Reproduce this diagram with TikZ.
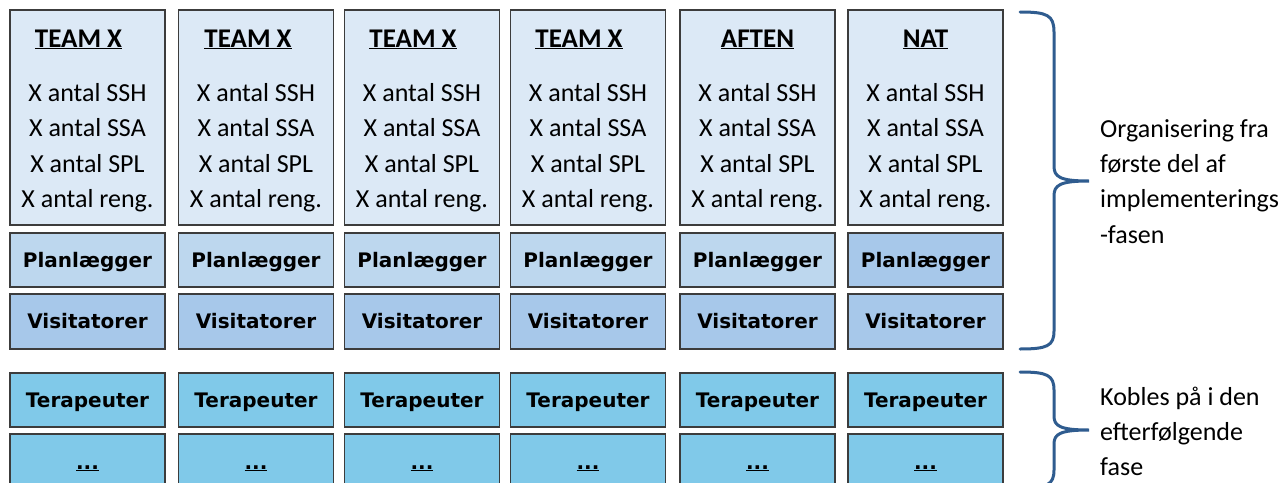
\documentclass[tikz,border=0pt]{standalone}
\usepackage{fontspec}
\setmainfont{Carlito}
\newfontfamily\heavyfont{DejaVu Sans}

\definecolor{boxline}{HTML}{3C3C3C}
\definecolor{teamfill}{HTML}{DCE9F6}
\definecolor{planfill}{HTML}{BDD7EE}
\definecolor{visitfill}{HTML}{A7C8EA}
\definecolor{terafill}{HTML}{80C9E9}
\definecolor{bracecol}{HTML}{2F5C8F}

% underlined text with a rule set just below the baseline
\newcommand\ulbox[1]{\setbox0\hbox{#1}\leavevmode\rlap{\rule[-2.2pt]{\wd0}{1.3pt}}\box0}

\begin{document}
\begin{tikzpicture}[x=1pt,y=-1pt,
  box/.style={draw=boxline, line width=1.5pt, rectangle, minimum width=155pt, inner sep=0pt},
  teambox/.style={box, fill=teamfill, minimum height=215pt},
  rolebox/.style={box, minimum height=54pt, text height=14.6pt, text depth=0pt,
    font=\heavyfont\bfseries\fontsize{20}{20}\selectfont},
  planbox/.style={rolebox, fill=planfill},
  visitbox/.style={rolebox, fill=visitfill, minimum height=55pt},
  terabox/.style={rolebox, fill=terafill},
  morebox/.style={box, fill=terafill, minimum height=62pt},
  head/.style={anchor=base, inner sep=0pt, font=\bfseries\fontsize{27}{27}\selectfont},
  dots/.style={anchor=base, inner sep=0pt, font=\heavyfont\bfseries\fontsize{20}{20}\selectfont},
  body/.style={anchor=base, inner sep=0pt, font=\fontsize{26}{26}\selectfont},
  note/.style={anchor=base west, inner sep=0pt, font=\fontsize{26}{26}\selectfont},
  brace/.style={draw=bracecol, line width=3pt, line cap=round}]

\useasboundingbox (0,0) rectangle (1285,482);
\clip (0,0) rectangle (1285,482);
\fill[white] (0,0) rectangle (1285,482);

% one column per team / shift
\foreach \i/\cx/\hd/\dx/\pf in {1/87.5/TEAM X/-9/planfill, 2/256/TEAM X/-8/planfill,
    3/422/TEAM X/-9/planfill, 4/588/TEAM X/-9/planfill,
    5/757.5/AFTEN/0/planfill, 6/925.5/NAT/0/visitfill}{
  \node[teambox] (team\i) at (\cx,117.5) {};
  \node[head] (head\i) at (\cx+\dx,47) {\ulbox{\hd}};
  \node[body] (ssh\i)  at (\cx,101) {X antal SSH};
  \node[body] (ssa\i)  at (\cx,136.5) {X antal SSA};
  \node[body] (spl\i)  at (\cx,172) {X antal SPL};
  \node[body] (reng\i) at (\cx,207.5) {X antal reng.};
  \node[planbox, fill=\pf] (plan\i) at (\cx,260) {Planlægger};
  \node[visitbox] (visit\i) at (\cx,321.5) {Visitatorer};
  \node[terabox] (tera\i) at (\cx,400) {Terapeuter};
  \node[morebox] (more\i) at (\cx,465) {};
  \node[dots] (dots\i) at (\cx,469) {\ulbox{...}};
}

% braces
\coordinate (b1top) at (1020,12);
\coordinate (b1tip) at (1089,181);
\coordinate (b1bot) at (1020,349);
\draw[brace] (b1top) .. controls (1047,12) and (1054,15) .. (1054,32)
  -- (1054,166) .. controls (1054,177) and (1060,181) .. (b1tip)
  .. controls (1060,181) and (1054,185) .. (1054,196)
  -- (1054,331) .. controls (1054,346) and (1047,349) .. (b1bot);

\coordinate (b2top) at (1020,372);
\coordinate (b2tip) at (1089,430);
\coordinate (b2bot) at (1020,488);
\draw[brace] (b2top) .. controls (1047,372) and (1054,375) .. (1054,390)
  -- (1054,416) .. controls (1054,426) and (1060,430) .. (b2tip)
  .. controls (1060,430) and (1054,434) .. (1054,444)
  -- (1054,470) .. controls (1054,485) and (1047,488) .. (b2bot);

% side notes
\node[note] (n1) at (1100,137) {Organisering fra};
\node[note] (n2) at (1100,172) {første del af};
\node[note] (n3) at (1100,207.5) {implementerings};
\node[note] (n4) at (1100,243) {-fasen};

\node[note] (m1) at (1100,405) {Kobles på i den};
\node[note] (m2) at (1100,440) {efterfølgende};
\node[note] (m3) at (1100,475) {fase};
\end{tikzpicture}
\end{document}
